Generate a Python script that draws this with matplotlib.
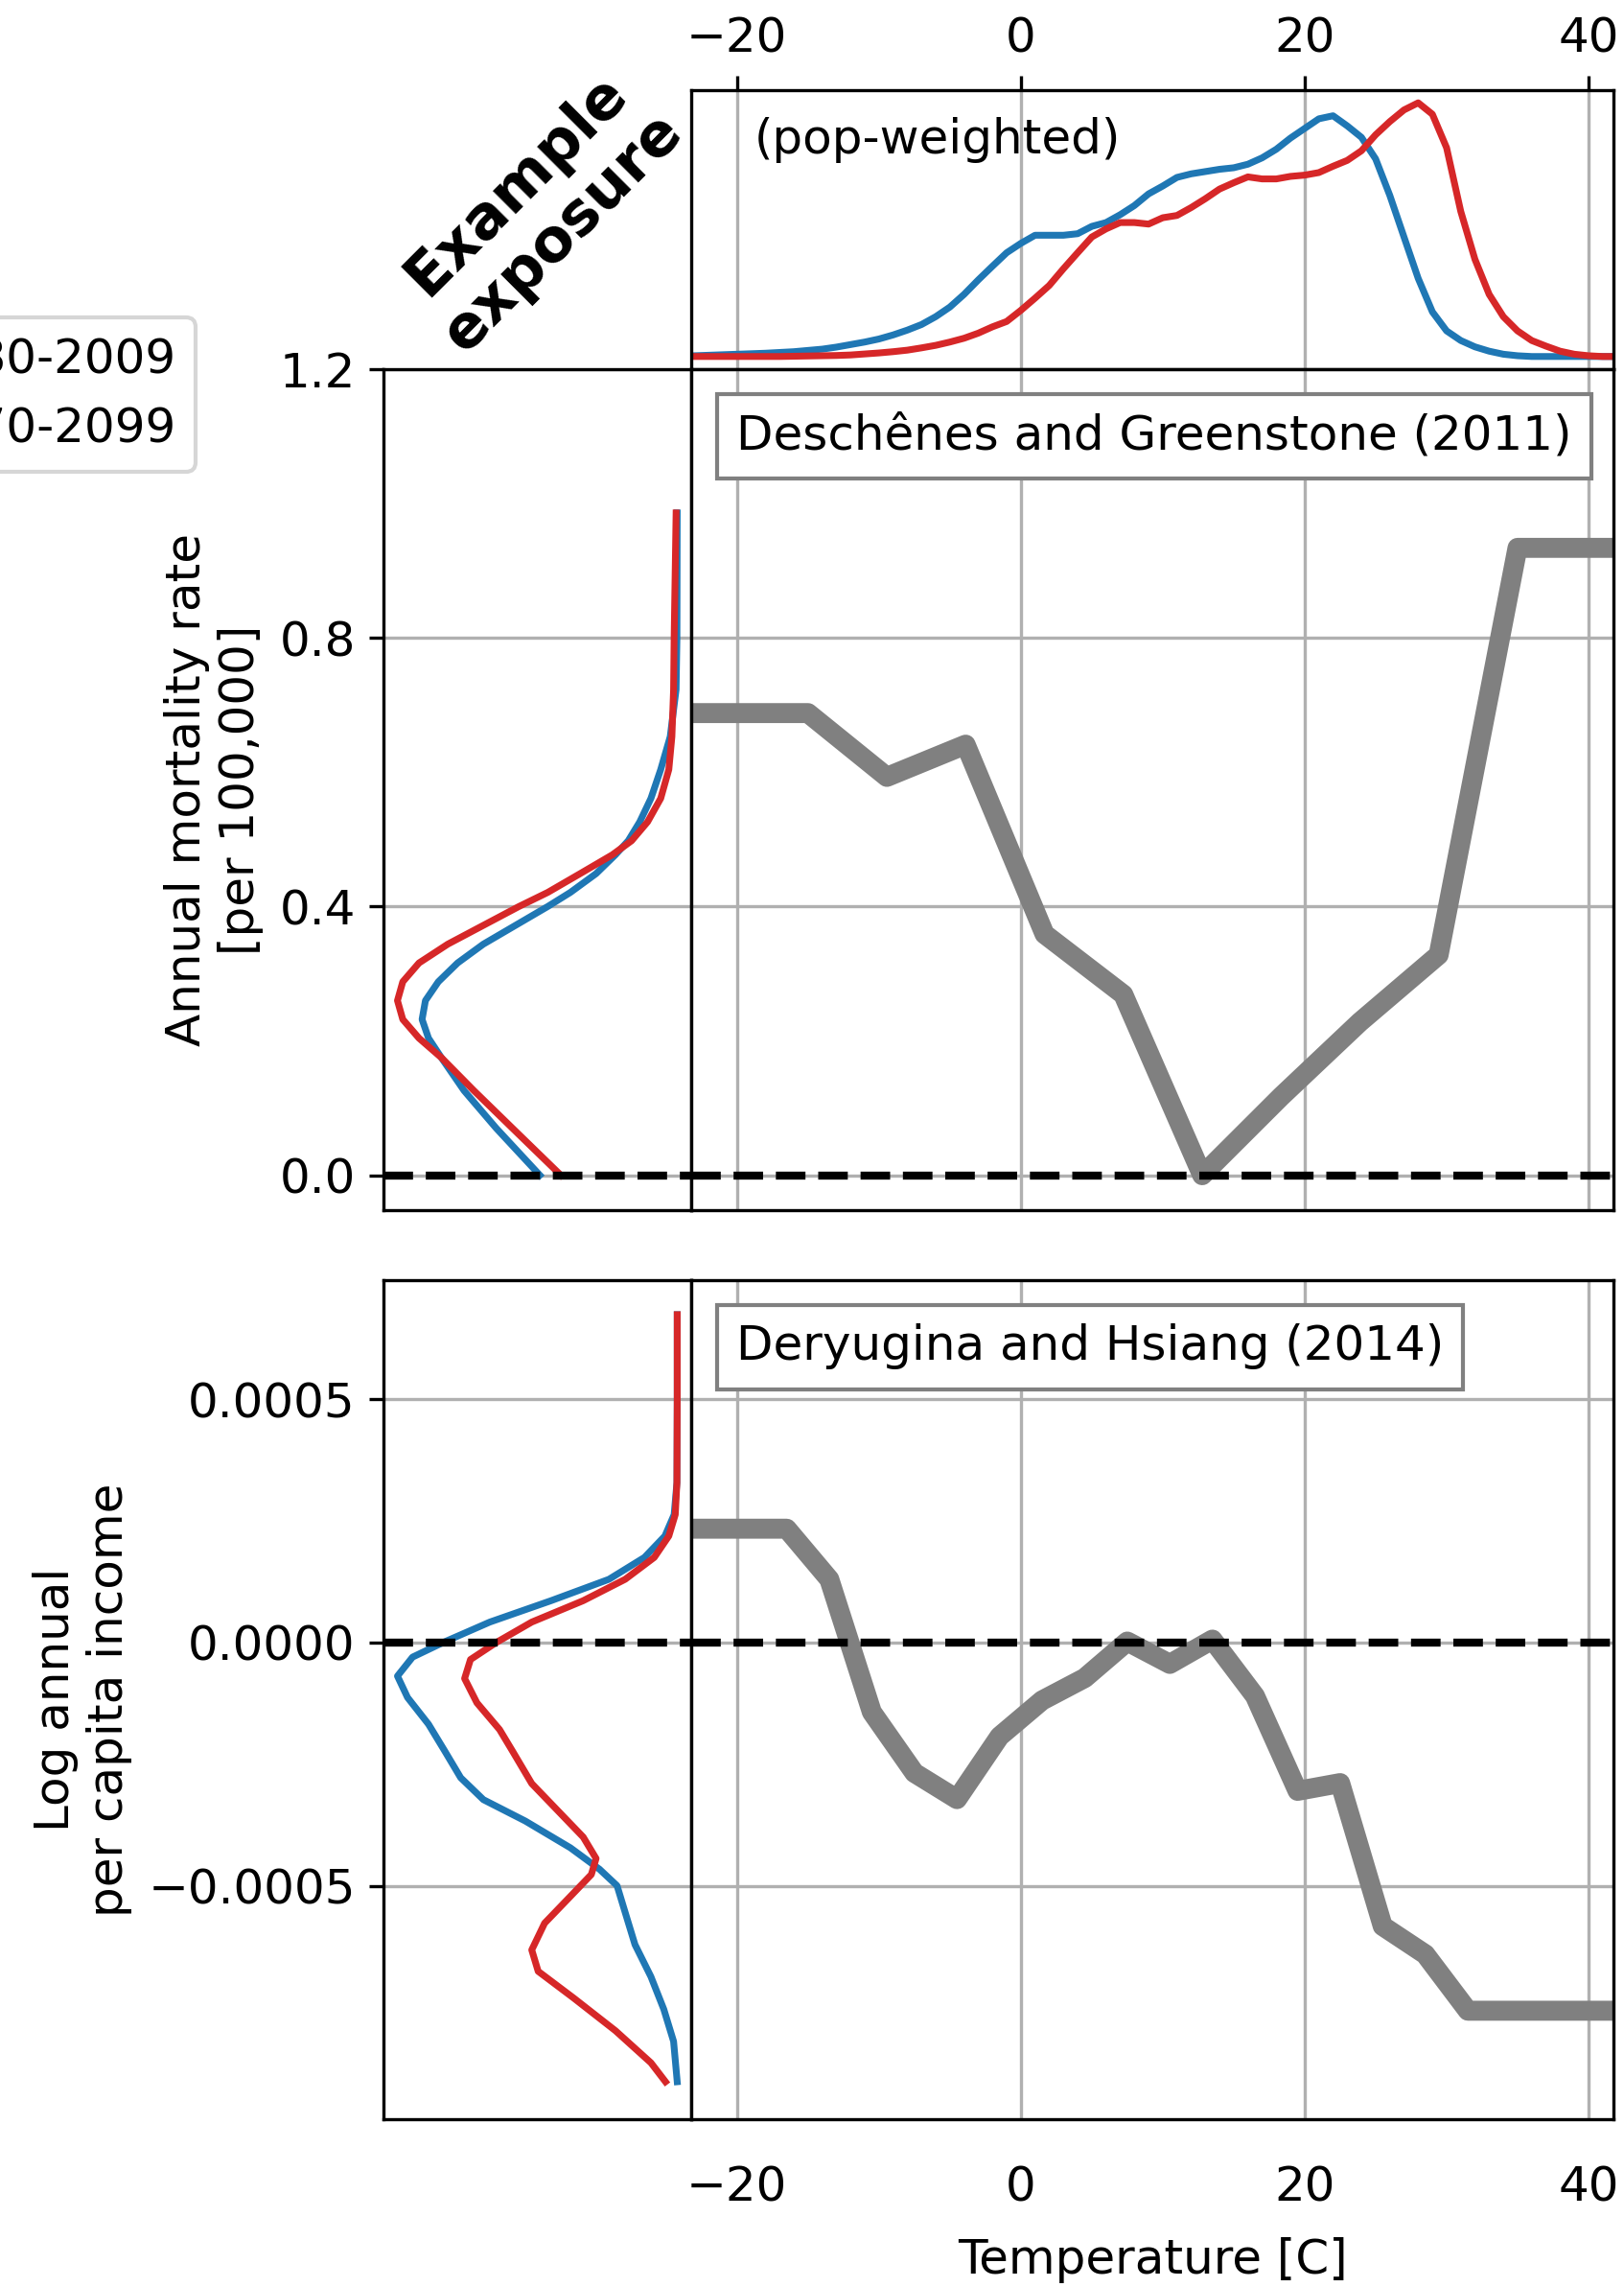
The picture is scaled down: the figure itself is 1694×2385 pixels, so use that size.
import numpy as np
import matplotlib
matplotlib.use("Agg")
import matplotlib.pyplot as plt
from matplotlib.ticker import FuncFormatter

plt.rcParams['font.family'] = ['DejaVu Sans']
plt.rcParams['font.size'] = 12

# ---------------------------------------------------------------------------
# Population-weighted daily temperature exposure (relative frequency per degC)
exposure_temp = np.arange(-24, 43)
exposure_hist = [0.002, 0.003, 0.005, 0.007, 0.009, 0.011, 0.013, 0.016, 0.019,
                 0.024, 0.029, 0.037, 0.047, 0.057, 0.069, 0.085, 0.104, 0.126,
                 0.157, 0.195, 0.245, 0.302, 0.356, 0.409, 0.446, 0.478, 0.478,
                 0.478, 0.484, 0.513, 0.528, 0.559, 0.595, 0.641, 0.672, 0.706,
                 0.720, 0.729, 0.738, 0.744, 0.758, 0.783, 0.817, 0.861, 0.899,
                 0.937, 0.949, 0.909, 0.864, 0.779, 0.635, 0.471, 0.308, 0.176,
                 0.101, 0.063, 0.038, 0.021, 0.009, 0.003, 0.0, 0.0, 0.0, 0.0,
                 0.0, 0.0, 0.0]
exposure_future = [0.0, 0.0, 0.0, 0.0, 0.0, 0.0, 0.0, 0.0, 0.001, 0.002, 0.003,
                   0.004, 0.006, 0.010, 0.014, 0.019, 0.025, 0.034, 0.044, 0.057,
                   0.072, 0.092, 0.117, 0.138, 0.182, 0.230, 0.280, 0.346, 0.409,
                   0.471, 0.503, 0.528, 0.528, 0.522, 0.547, 0.556, 0.587, 0.622,
                   0.660, 0.685, 0.708, 0.700, 0.700, 0.710, 0.715, 0.725, 0.750,
                   0.773, 0.811, 0.874, 0.926, 0.972, 1.000, 0.955, 0.823, 0.572,
                   0.383, 0.245, 0.157, 0.101, 0.063, 0.041, 0.021, 0.009, 0.003,
                   0.0, 0.0]
period_labels = ['1980-2009', '2070-2099']

# Mortality response by temperature bin (Deschenes and Greenstone 2011)
mort_temp = [-40.0, -15.0, -9.44, -3.89, 1.67, 7.22, 12.78, 18.33, 23.89, 29.44,
             35.0, 50.0]
mort_resp = [0.688, 0.688, 0.593, 0.641, 0.359, 0.269, 0.0, 0.117, 0.228, 0.328,
             0.934, 0.934]

# Income response by temperature bin (Deryugina and Hsiang 2014)
inc_temp = [-40.0, -16.5, -13.5, -10.5, -7.5, -4.5, -1.5, 1.5, 4.5, 7.5, 10.5,
            13.5, 16.5, 19.5, 22.5, 25.5, 28.5, 31.5, 50.0]
inc_resp = [0.000234, 0.000234, 0.000130, -0.000143, -0.000268, -0.000322,
            -0.000193, -0.000119, -0.000073, 0.000002, -0.000044, 0.000006,
            -0.000110, -0.000305, -0.000289, -0.000583, -0.000641, -0.000757,
            -0.000757]

# Distribution of annual mortality outcomes (value, density)
mort_val_hist = [0.986, 0.800, 0.723, 0.653, 0.604, 0.561, 0.526, 0.498, 0.477,
                 0.449, 0.421, 0.400, 0.372, 0.344, 0.316, 0.288, 0.260, 0.232,
                 0.204, 0.175, 0.126, 0.070, 0.0]
mort_den_hist = [0.0, 0.001, 0.004, 0.025, 0.059, 0.094, 0.134, 0.175, 0.221,
                 0.290, 0.382, 0.463, 0.578, 0.693, 0.785, 0.854, 0.900, 0.912,
                 0.889, 0.843, 0.762, 0.647, 0.491]
mort_val_future = mort_val_hist
mort_den_future = [0.004, 0.011, 0.013, 0.019, 0.030, 0.059, 0.106, 0.163, 0.232,
                   0.347, 0.463, 0.566, 0.693, 0.820, 0.923, 0.981, 1.000, 0.981,
                   0.923, 0.843, 0.727, 0.589, 0.416]

# Distribution of annual income outcomes (value, density)
inc_val_hist = [0.000674, 0.0005, 0.000329, 0.000263, 0.000219, 0.000175,
                0.000130, 0.000086, 0.000042, 0.0, -0.000030, -0.000069,
                -0.000113, -0.000168, -0.000223, -0.000278, -0.000323,
                -0.000367, -0.000422, -0.000466, -0.000500, -0.000555,
                -0.000621, -0.000687, -0.000754, -0.000820, -0.000903]
inc_den_hist = [0.0, 0.0, 0.001, 0.011, 0.044, 0.117, 0.244, 0.451, 0.670, 0.837,
                0.946, 1.000, 0.964, 0.889, 0.831, 0.774, 0.693, 0.543, 0.382,
                0.278, 0.215, 0.186, 0.151, 0.094, 0.048, 0.013, 0.0]
inc_val_future = [0.000674, 0.0005, 0.000329, 0.000263, 0.000219, 0.000175,
                  0.000130, 0.000086, 0.000042, 0.0, -0.000035, -0.000074,
                  -0.000124, -0.000179, -0.000223, -0.000290, -0.000345,
                  -0.000400, -0.000444, -0.000477, -0.000522, -0.000577,
                  -0.000632, -0.000676, -0.000731, -0.000798, -0.000864,
                  -0.000903]
inc_den_future = [0.0, 0.0, 0.001, 0.007, 0.030, 0.082, 0.186, 0.336, 0.520,
                  0.647, 0.739, 0.760, 0.716, 0.635, 0.589, 0.520, 0.428, 0.336,
                  0.290, 0.307, 0.382, 0.474, 0.520, 0.497, 0.370, 0.221, 0.094,
                  0.042]

temp_ticks = [-20, 0, 20, 40]
mort_ticks = [0.0, 0.4, 0.8, 1.2]
inc_ticks = [-0.0005, 0.0, 0.0005]

# ---------------------------------------------------------------------------
W, H, DPI = 1694, 2385, 300
fig = plt.figure(figsize=(W / DPI, H / DPI), dpi=DPI)


def box(x0, y0, x1, y1):
    return [x0 / W, 1 - y1 / H, (x1 - x0) / W, (y1 - y0) / H]


ax_top = fig.add_axes(box(721, 94, 1683, 385))
ax_ml = fig.add_axes(box(400, 385, 721, 1262))
ax_m = fig.add_axes(box(721, 385, 1683, 1262), sharey=ax_ml)
ax_bl = fig.add_axes(box(400, 1335, 721, 2210))
ax_b = fig.add_axes(box(721, 1335, 1683, 2210), sharey=ax_bl)

C_HIST, C_FUT = '#1f77b4', '#d62728'
LW = 1.7
xlim = (-23.23, 41.76)

# Exposure panel
l1, = ax_top.plot(exposure_temp, exposure_hist, color=C_HIST, lw=LW)
l2, = ax_top.plot(exposure_temp, exposure_future, color=C_FUT, lw=LW)
ax_top.set_xlim(xlim)
ax_top.set_xticks(temp_ticks)
ax_top.xaxis.tick_top()
ax_top.set_yticks([])
ax_top.grid(axis='x', color='#b0b0b0', lw=0.8)
ax_top.text(0.068, 0.822, '(pop-weighted)', transform=ax_top.transAxes,
            ha='left', va='center')

# Response panels
for ax, t, r, lab in [(ax_m, mort_temp, mort_resp, 'Deschênes and Greenstone (2011)'),
                      (ax_b, inc_temp, inc_resp, 'Deryugina and Hsiang (2014)')]:
    ax.plot(t, r, color='gray', lw=5)
    ax.axhline(0, color='k', ls='--', lw=2)
    ax.set_xlim(xlim)
    ax.set_xticks(temp_ticks)
    ax.grid(True, color='#b0b0b0', lw=0.8)
    ax.tick_params(length=0, labelleft=False, pad=11.5)
    ax.text(0.049, 0.948, lab, transform=ax.transAxes, ha='left', va='top',
            bbox=dict(boxstyle='square,pad=0.4', fc='white', ec='gray', lw=1))
ax_m.tick_params(labelbottom=False)
ax_b.set_xlabel('Temperature [C]', labelpad=6.5)

# Outcome distributions
ax_ml.plot(mort_den_hist, mort_val_hist, color=C_HIST, lw=LW)
ax_ml.plot(mort_den_future, mort_val_future, color=C_FUT, lw=LW)
ax_bl.plot(inc_den_hist, inc_val_hist, color=C_HIST, lw=LW)
ax_bl.plot(inc_den_future, inc_val_future, color=C_FUT, lw=LW)
for ax in (ax_ml, ax_bl):
    ax.axhline(0, color='k', ls='--', lw=2)
    ax.invert_xaxis()
    ax.set_xticks([])
    ax.grid(axis='y', color='#b0b0b0', lw=0.8)

ax_ml.set_ylim(-0.052, 1.2)
ax_ml.set_yticks(mort_ticks)
ax_ml.yaxis.set_major_formatter(FuncFormatter(lambda v, p: f'{v:.1f}'))
ax_ml.set_ylabel('Annual mortality rate\n[per 100,000]')

ax_bl.set_ylim(-0.00098, 0.000745)
ax_bl.set_yticks(inc_ticks)
ax_bl.yaxis.set_major_formatter(
    FuncFormatter(lambda v, p: f'{v:.4f}'.replace('-', '\u2212')))
ax_bl.set_ylabel('Log annual\nper capita income')

fig.text(563 / W, 1 - 218 / H, 'Example\nexposure', rotation=45,
         ha='center', va='center', multialignment='center',
         fontweight='bold', fontsize=15, rotation_mode='anchor')

fig.legend([l1, l2], period_labels, loc='upper right',
           bbox_to_anchor=(204 / W, 1 - 331 / H), borderaxespad=0)

fig.savefig('out.png', dpi=DPI)
